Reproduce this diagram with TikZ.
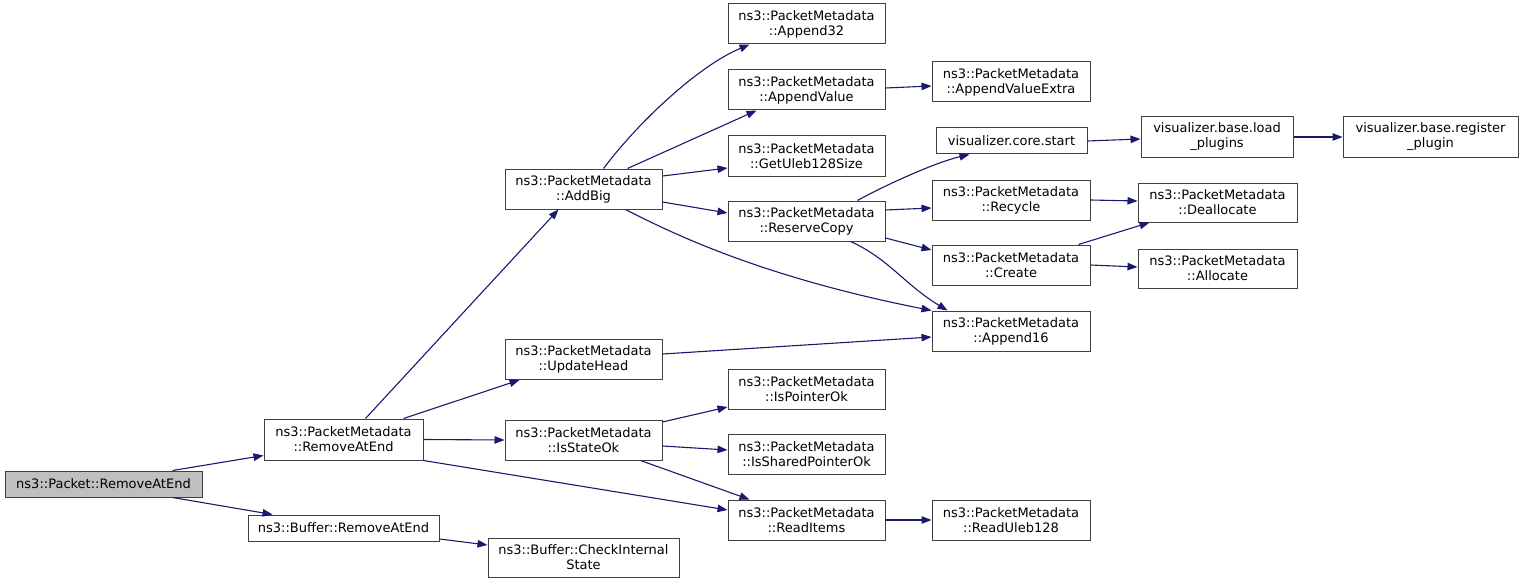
\documentclass[tikz,border=0pt]{standalone}
\usepackage{fontspec}
\setmainfont{DejaVu Sans}
\usetikzlibrary{arrows.meta}
\definecolor{edgecol}{HTML}{191970}
\definecolor{boxcol}{HTML}{404040}
\definecolor{graycol}{HTML}{BFBFBF}
\tikzset{
  box/.style={draw=boxcol, line width=1pt, fill=white, align=center, inner sep=0pt,
    font=\fontsize{13}{15}\selectfont, text=black},
  bx2/.style={box, minimum width=157pt, minimum height=40pt},
  edge/.style={draw=edgecol, line width=1.1pt, -{Triangle[length=10pt,width=7.5pt]}}
}
\begin{document}
\begin{tikzpicture}[x=1pt,y=-1pt]
\useasboundingbox (0,0) rectangle (1523,583);
% nodes
\node[box, fill=graycol, minimum width=197pt, minimum height=26pt] (pra) at (103.5,484) {ns3::Packet::RemoveAtEnd};
\node[box, minimum width=159pt, minimum height=41pt] (pmra) at (343.5,439.5) {ns3::PacketMetadata\\::RemoveAtEnd};
\node[box, minimum width=191pt, minimum height=26pt] (bra) at (343.5,528) {ns3::Buffer::RemoveAtEnd};
\node[box, minimum width=191pt, minimum height=39pt] (bcis) at (583.5,557.5) {ns3::Buffer::CheckInternal\\State};
\node[bx2] (addbig) at (583.5,189) {ns3::PacketMetadata\\::AddBig};
\node[bx2] (uph) at (583.5,359.5) {ns3::PacketMetadata\\::UpdateHead};
\node[bx2] (isok) at (583.5,440) {ns3::PacketMetadata\\::IsStateOk};
\node[bx2] (a32) at (806.5,24) {ns3::PacketMetadata\\::Append32};
\node[bx2] (av) at (806.5,90) {ns3::PacketMetadata\\::AppendValue};
\node[bx2] (gul) at (806.5,156) {ns3::PacketMetadata\\::GetUleb128Size};
\node[bx2] (rc) at (806.5,221) {ns3::PacketMetadata\\::ReserveCopy};
\node[bx2] (ipo) at (806.5,389) {ns3::PacketMetadata\\::IsPointerOk};
\node[bx2] (ispo) at (806.5,454) {ns3::PacketMetadata\\::IsSharedPointerOk};
\node[bx2] (ri) at (806.5,520) {ns3::PacketMetadata\\::ReadItems};
\node[bx2, minimum width=158pt] (ave) at (1011,82) {ns3::PacketMetadata\\::AppendValueExtra};
\node[box, minimum width=151pt, minimum height=26pt] (vcs) at (1011.5,141) {visualizer.core.start};
\node[bx2, minimum width=158pt] (rec) at (1011,200) {ns3::PacketMetadata\\::Recycle};
\node[bx2, minimum width=158pt] (cre) at (1011,265) {ns3::PacketMetadata\\::Create};
\node[bx2, minimum width=158pt] (a16) at (1011,331) {ns3::PacketMetadata\\::Append16};
\node[bx2, minimum width=158pt] (ru) at (1011,520) {ns3::PacketMetadata\\::ReadUleb128};
\node[bx2, minimum width=152pt] (vlp) at (1217,137) {visualizer.base.load\\\_plugins};
\node[bx2, minimum width=159pt, minimum height=39pt] (dea) at (1217.5,202.5) {ns3::PacketMetadata\\::Deallocate};
\node[bx2, minimum width=159pt, minimum height=39pt] (alo) at (1217.5,268.5) {ns3::PacketMetadata\\::Allocate};
\node[bx2, minimum width=175pt] (vrp) at (1430.5,137) {visualizer.base.register\\\_plugin};
% edges
\draw[edge] ([xshift=-30pt]pra.north east) -- ([yshift=-16pt]pmra.west);
\draw[edge] ([xshift=-30pt]pra.south east) -- ([xshift=25pt]bra.north west);
\draw[edge] ([xshift=22pt]pmra.north) -- ([xshift=-25pt]addbig.south);
\draw[edge] ([xshift=-20pt]pmra.north east) -- ([xshift=15pt]uph.south west);
\draw[edge] (pmra.east) -- (isok.west);
\draw[edge] (pmra.south east) -- ([yshift=10pt]ri.west);
\draw[edge] ([yshift=-11pt]bra.east) -- ([yshift=12.5pt]bcis.west);
\draw[edge] ([xshift=20pt]addbig.north) .. controls +(37,-49) and +(-50,21) .. ([xshift=22pt]a32.south west);
\draw[edge] ([xshift=-35pt]addbig.north east) -- ([xshift=29pt]av.south west);
\draw[edge] ([yshift=13pt]addbig.east) -- ([yshift=-12pt]gul.west);
\draw[edge] ([yshift=-13pt]addbig.east) -- ([yshift=8pt]rc.west);
\draw[edge] ([xshift=-37pt]addbig.south east) .. controls +(45,23) and +(-172,-34) .. (a16.north west);
\draw[edge] ([yshift=2pt]av.east) -- ([yshift=-4pt]ave.west);
\draw[edge] ([xshift=-28pt]rc.north east) .. controls +(23,-13) and +(-35,8) .. ([xshift=34pt]vcs.south west);
\draw[edge] ([yshift=11pt]rc.east) -- ([yshift=-8pt]rec.west);
\draw[edge] ([yshift=-17pt]rc.east) -- ([yshift=15pt]cre.west);
\draw[edge] ([xshift=-35pt]rc.south east) .. controls +(38,17) and +(-43,-26) .. ([xshift=16pt]a16.north west);
\draw[edge] (vcs.east) -- ([yshift=-2pt]vlp.west);
\draw[edge] (vlp.east) -- (vrp.west);
\draw[edge] (rec.east) -- ([yshift=1.5pt]dea.west);
\draw[edge] ([xshift=-12pt]cre.north east) -- ([xshift=12pt]dea.south west);
\draw[edge] (cre.east) -- ([yshift=1.5pt]alo.west);
\draw[edge] ([yshift=5.5pt]uph.east) -- ([yshift=-6pt]a16.west);
\draw[edge] ([yshift=18pt]isok.east) -- ([yshift=-18pt]ipo.west);
\draw[edge] ([yshift=-6pt]isok.east) -- ([yshift=4pt]ispo.west);
\draw[edge] ([xshift=-22pt]isok.south east) -- ([xshift=22pt]ri.north west);
\draw[edge] (ri.east) -- (ru.west);
\end{tikzpicture}
\end{document}
